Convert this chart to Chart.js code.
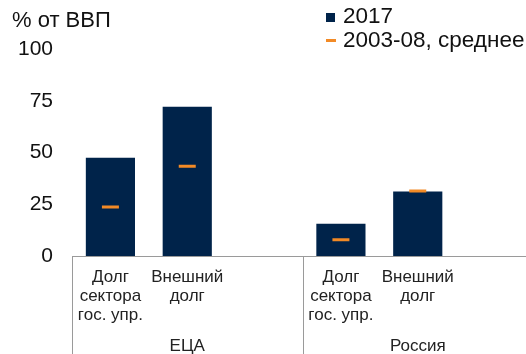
<!DOCTYPE html>
<html>
<head>
<meta charset="utf-8">
<script src="https://cdn.jsdelivr.net/npm/chart.js@4/dist/chart.umd.min.js"></script>
<style>
  html, body { margin: 0; padding: 0; background: #fff; }
  body { width: 526px; height: 354px; overflow: hidden; }
  #wrap { width: 533px; height: 354px; }
</style>
</head>
<body>
<div id="wrap"><canvas id="canvas" width="533" height="354"></canvas></div>
<script>
// categories: two groups of two bars, third slot of each group left empty
var categories = [
  ["Долг", "сектора", "гос. упр."],
  ["Внешний", "долг"],
  "",
  ["Долг", "сектора", "гос. упр."],
  ["Внешний", "долг"],
  ""
];
var groups = ["ЕЦА", "Россия"];
var debt2017 = [47.5, 72.1, null, 15.6, 31.1, null];
var avg2003_08 = [23.7, 43.4, null, 7.9, 31.4, null];
var yTicks = [0, 25, 50, 75, 100];

var navy = "#00234a";
var orange = "#f28a26";
var font = "'Liberation Sans', Arial, sans-serif";

// axis lines, group captions, unit and legend
var decor = {
  id: "decor",
  afterDraw: function(chart) {
    var ctx = chart.ctx;
    var area = chart.chartArea;
    var slot = (area.right - area.left) / categories.length;

    ctx.save();
    ctx.strokeStyle = "#9a9a9a";
    ctx.lineWidth = 1;
    for (var g = 0; g < groups.length; g++) {
      var gx = Math.round(area.left + g * 3 * slot) + 0.5;
      ctx.beginPath();
      ctx.moveTo(gx, area.bottom);
      ctx.lineTo(gx, chart.height);
      ctx.stroke();
    }

    ctx.fillStyle = "#222";
    ctx.font = "17px " + font;
    ctx.textAlign = "center";
    ctx.textBaseline = "middle";
    for (var i = 0; i < groups.length; i++) {
      var cx = area.left + (i * 3 + 1.5) * slot;
      ctx.fillText(groups[i], cx, 346);
    }

    ctx.fillStyle = "#111";
    ctx.font = "22px " + font;
    ctx.textAlign = "left";
    ctx.fillText("% от ВВП", 12, 21);

    // legend
    ctx.font = "22.5px " + font;
    ctx.fillStyle = navy;
    ctx.fillRect(326, 13, 9, 9);
    ctx.fillStyle = "#111";
    ctx.fillText("2017", 343, 17);
    ctx.fillStyle = orange;
    ctx.fillRect(326, 39, 10, 3);
    ctx.fillStyle = "#111";
    ctx.fillText("2003-08, среднее", 343, 41);
    ctx.restore();
  }
};

var config = {
  type: "bar",
  data: {
    labels: categories,
    datasets: [
      {
        type: "line",
        label: "2003-08, среднее",
        data: avg2003_08,
        showLine: false,
        borderColor: orange,
        backgroundColor: orange,
        pointStyle: "line",
        pointRadius: 8.5,
        pointHoverRadius: 8.5,
        pointBorderWidth: 3,
        order: 1
      },
      {
        label: "2017",
        data: debt2017,
        backgroundColor: navy,
        borderWidth: 0,
        categoryPercentage: 1,
        barPercentage: 0.64,
        order: 2
      }
    ]
  },
  options: {
    responsive: false,
    animation: false,
    events: [],
    layout: { autoPadding: false, padding: { top: 49, left: 0, right: -3, bottom: 0 } },
    plugins: {
      legend: { display: false },
      tooltip: { enabled: false }
    },
    scales: {
      x: {
        grid: { display: false, drawTicks: false },
        border: { display: true, color: "#9a9a9a", width: 1 },
        ticks: {
          autoSkip: false,
          maxRotation: 0,
          padding: 12,
          color: "#222",
          font: { family: font, size: 17, lineHeight: 1.12 }
        },
        afterFit: function(scale) { scale.height = 98; }
      },
      y: {
        min: 0,
        max: 100,
        grid: { display: false, drawTicks: false },
        border: { display: false },
        afterBuildTicks: function(scale) {
          scale.ticks = yTicks.map(function(v) { return { value: v }; });
        },
        ticks: {
          padding: 19,
          color: "#111",
          font: { family: font, size: 21 }
        },
        afterFit: function(scale) { scale.width = 72; }
      }
    }
  },
  plugins: [decor]
};

window.onload = function() {
  var ctx = document.getElementById("canvas").getContext("2d");
  window.myBar = new Chart(ctx, config);
};
</script>
</body>
</html>
